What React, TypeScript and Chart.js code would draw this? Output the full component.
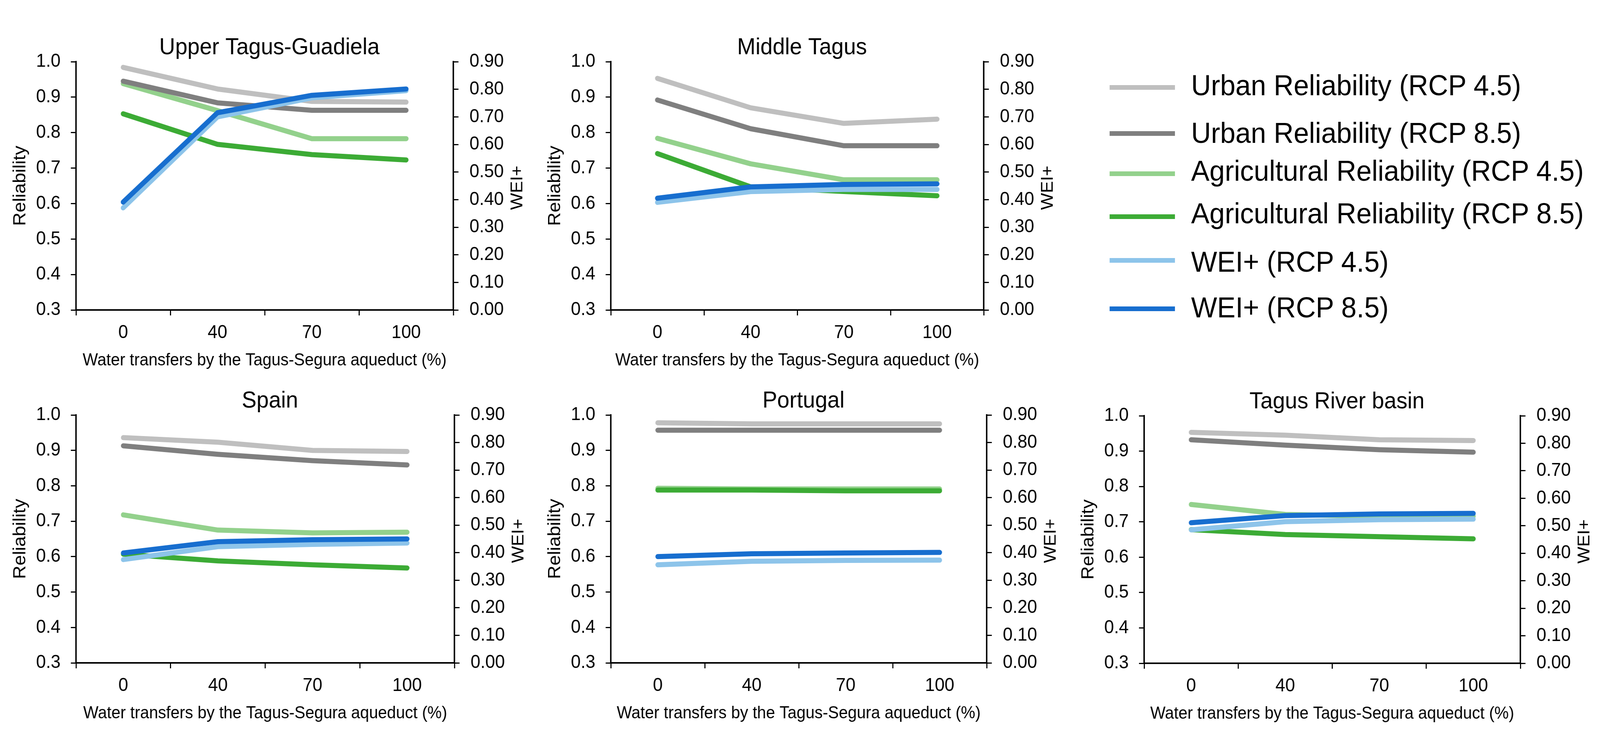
import React, { useEffect, useRef, useState } from "react";
import { Chart, registerables } from "chart.js";

Chart.register(...registerables);

const FONT = '"Liberation Sans", Arial, Helvetica, sans-serif';
const PAGE_W = 4359;
const PAGE_H = 1893;

// ---------- data ----------
const CATEGORIES = ["0", "40", "70", "100"];
const RELIABILITY_TICKS = [0.3, 0.4, 0.5, 0.6, 0.7, 0.8, 0.9, 1.0];
const WEI_TICKS = [0, 0.1, 0.2, 0.3, 0.4, 0.5, 0.6, 0.7, 0.8, 0.9];
const X_TITLE = "Water transfers by the Tagus-Segura aqueduct (%)";
const Y_TITLE = "Reliability";
const Y2_TITLE = "WEI+";

const SERIES_LABELS = [
  "Urban Reliability (RCP 4.5)",
  "Urban Reliability (RCP 8.5)",
  "Agricultural Reliability (RCP 4.5)",
  "Agricultural Reliability (RCP 8.5)",
  "WEI+ (RCP 4.5)",
  "WEI+ (RCP 8.5)",
];
const SERIES_COLORS = ["#bfbfbf", "#7f7f7f", "#93d18c", "#3cab35", "#8dc4ea", "#176ecf"];
const SERIES_AXIS = ["y", "y", "y", "y", "y1", "y1"];
const SERIES_ORDER = [3, 2, 5, 4, 1, 0];

// Upper Tagus-Guadiela
const UTG_URBAN_45 = [0.984, 0.923, 0.888, 0.886];
const UTG_URBAN_85 = [0.945, 0.884, 0.863, 0.863];
const UTG_AGRI_45 = [0.938, 0.862, 0.783, 0.783];
const UTG_AGRI_85 = [0.853, 0.767, 0.738, 0.723];
const UTG_WEI_45 = [0.37, 0.7, 0.769, 0.795];
const UTG_WEI_85 = [0.391, 0.715, 0.778, 0.801];

// Middle Tagus
const MT_URBAN_45 = [0.953, 0.87, 0.826, 0.838];
const MT_URBAN_85 = [0.892, 0.811, 0.763, 0.763];
const MT_AGRI_45 = [0.784, 0.712, 0.667, 0.667];
const MT_AGRI_85 = [0.741, 0.647, 0.634, 0.622];
const MT_WEI_45 = [0.39, 0.429, 0.437, 0.437];
const MT_WEI_85 = [0.405, 0.446, 0.455, 0.457];

// Spain
const ES_URBAN_45 = [0.936, 0.923, 0.9, 0.897];
const ES_URBAN_85 = [0.913, 0.889, 0.871, 0.859];
const ES_AGRI_45 = [0.718, 0.675, 0.667, 0.669];
const ES_AGRI_85 = [0.607, 0.588, 0.577, 0.568];
const ES_WEI_45 = [0.375, 0.422, 0.43, 0.435];
const ES_WEI_85 = [0.399, 0.44, 0.447, 0.45];

// Portugal
const PT_URBAN_45 = [0.978, 0.975, 0.975, 0.975];
const PT_URBAN_85 = [0.957, 0.957, 0.957, 0.957];
const PT_AGRI_45 = [0.793, 0.791, 0.791, 0.791];
const PT_AGRI_85 = [0.788, 0.788, 0.786, 0.786];
const PT_WEI_45 = [0.356, 0.369, 0.372, 0.373];
const PT_WEI_85 = [0.386, 0.396, 0.399, 0.401];

// Tagus River basin
const TRB_URBAN_45 = [0.953, 0.945, 0.932, 0.93];
const TRB_URBAN_85 = [0.932, 0.917, 0.904, 0.897];
const TRB_AGRI_45 = [0.749, 0.721, 0.716, 0.716];
const TRB_AGRI_85 = [0.678, 0.664, 0.658, 0.652];
const TRB_WEI_45 = [0.485, 0.515, 0.522, 0.524];
const TRB_WEI_85 = [0.511, 0.537, 0.543, 0.545];

// ---------- layout ----------
const LEFT_W = 180;
const RIGHT_W = 206;
const TITLE_H = 72;
const BOTTOM_H = 170;

type PanelDef = {
  title: string;
  series: number[][];
  area: { left: number; right: number; top: number; bottom: number };
};

const PANELS: PanelDef[] = [
  {
    title: "Upper Tagus-Guadiela",
    series: [UTG_URBAN_45, UTG_URBAN_85, UTG_AGRI_45, UTG_AGRI_85, UTG_WEI_45, UTG_WEI_85],
    area: { left: 207, right: 1235, top: 158, bottom: 794 },
  },
  {
    title: "Middle Tagus",
    series: [MT_URBAN_45, MT_URBAN_85, MT_AGRI_45, MT_AGRI_85, MT_WEI_45, MT_WEI_85],
    area: { left: 1664, right: 2680, top: 158, bottom: 794 },
  },
  {
    title: "Spain",
    series: [ES_URBAN_45, ES_URBAN_85, ES_AGRI_45, ES_AGRI_85, ES_WEI_45, ES_WEI_85],
    area: { left: 207, right: 1238, top: 1063, bottom: 1698 },
  },
  {
    title: "Portugal",
    series: [PT_URBAN_45, PT_URBAN_85, PT_AGRI_45, PT_AGRI_85, PT_WEI_45, PT_WEI_85],
    area: { left: 1664, right: 2688, top: 1063, bottom: 1698 },
  },
  {
    title: "Tagus River basin",
    series: [TRB_URBAN_45, TRB_URBAN_85, TRB_AGRI_45, TRB_AGRI_85, TRB_WEI_45, TRB_WEI_85],
    area: { left: 3117, right: 4142, top: 1065, bottom: 1699 },
  },
];

const LEGEND_LINE_Y = [224, 342, 445, 555, 667, 791];
const LEGEND_TEXT_Y = [218, 340, 437, 546, 670, 787];

const rightTitlePlugin = {
  id: "rightTitle",
  afterDraw(chart: any) {
    const { ctx, chartArea } = chart;
    ctx.save();
    ctx.translate(chartArea.right + 175, (chartArea.top + chartArea.bottom) / 2 + 5);
    ctx.rotate(-Math.PI / 2);
    ctx.font = `46px ${FONT}`;
    ctx.fillStyle = "#000";
    ctx.textAlign = "center";
    ctx.textBaseline = "middle";
    ctx.fillText(Y2_TITLE, 0, 0);
    ctx.restore();
  },
};

function Panel({ def, dpr }: { def: PanelDef; dpr: number }) {
  const ref = useRef<HTMLCanvasElement | null>(null);
  const { area } = def;
  const x = area.left - LEFT_W;
  const y = area.top - TITLE_H;
  const w = area.right - area.left + LEFT_W + RIGHT_W;
  const h = area.bottom - area.top + TITLE_H + BOTTOM_H;

  useEffect(() => {
    if (!ref.current) return;
    const axisCommon = {
      grid: {
        display: true,
        drawOnChartArea: false,
        drawTicks: true,
        tickLength: 14,
        color: "#000",
        lineWidth: 3,
      },
      border: { display: true, color: "#000", width: 4 },
    };
    const chart = new Chart(ref.current, {
      type: "line",
      data: {
        labels: CATEGORIES,
        datasets: def.series.map((vals, i) => ({
          label: SERIES_LABELS[i],
          data: vals,
          borderColor: SERIES_COLORS[i],
          backgroundColor: SERIES_COLORS[i],
          borderWidth: 13,
          pointRadius: 0,
          pointHoverRadius: 0,
          tension: 0,
          fill: false,
          borderCapStyle: "round",
          borderJoinStyle: "round",
          yAxisID: SERIES_AXIS[i],
          order: SERIES_ORDER[i],
        })),
      },
      options: {
        responsive: false,
        animation: false,
        devicePixelRatio: dpr,
        events: [],
        layout: { padding: 0 },
        plugins: {
          legend: { display: false },
          tooltip: { enabled: false },
          title: {
            display: true,
            text: def.title,
            color: "#000",
            font: { family: FONT, size: 60, weight: "normal", lineHeight: 1.2 },
            padding: { top: 0, bottom: 0 },
          },
        },
        scales: {
          x: {
            type: "category",
            offset: true,
            grid: { ...axisCommon.grid, offset: true },
            border: axisCommon.border,
            ticks: {
              color: "#000",
              font: { family: FONT, size: 48 },
              padding: 16,
              maxRotation: 0,
              autoSkip: false,
            },
            title: {
              display: true,
              text: X_TITLE,
              color: "#000",
              font: { family: FONT, size: 44, lineHeight: 1.2 },
              padding: { top: 0, bottom: 14 },
            },
            afterFit: (s: any) => {
              s.height = BOTTOM_H;
            },
          },
          y: {
            type: "linear",
            position: "left",
            min: 0.3,
            max: 1.0,
            afterBuildTicks: (s: any) => {
              s.ticks = RELIABILITY_TICKS.map((v) => ({ value: v }));
            },
            grid: axisCommon.grid,
            border: axisCommon.border,
            ticks: {
              color: "#000",
              font: { family: FONT, size: 48 },
              padding: 28,
              callback: (v: any) => Number(v).toFixed(1),
            },
            title: {
              display: true,
              text: Y_TITLE,
              color: "#000",
              font: { family: FONT, size: 48, lineHeight: 1.2 },
              padding: { top: 0, bottom: 0 },
            },
            afterFit: (s: any) => {
              s.width = LEFT_W;
            },
          },
          y1: {
            type: "linear",
            position: "right",
            min: 0,
            max: 0.9,
            afterBuildTicks: (s: any) => {
              s.ticks = WEI_TICKS.map((v) => ({ value: v }));
            },
            grid: axisCommon.grid,
            border: axisCommon.border,
            ticks: {
              color: "#000",
              font: { family: FONT, size: 48 },
              padding: 30,
              callback: (v: any) => Number(v).toFixed(2),
            },
            afterFit: (s: any) => {
              s.width = RIGHT_W;
            },
          },
        },
      } as any,
      plugins: [rightTitlePlugin],
    });
    return () => chart.destroy();
  }, [dpr]);

  return (
    <canvas
      ref={ref}
      width={w}
      height={h}
      style={{ position: "absolute", left: x, top: y, width: w, height: h }}
    />
  );
}

function Legend() {
  return (
    <>
      {SERIES_LABELS.map((label, i) => (
        <React.Fragment key={label}>
          <div
            style={{
              position: "absolute",
              left: 3023,
              top: LEGEND_LINE_Y[i] - 6,
              width: 178,
              height: 12,
              background: SERIES_COLORS[i],
            }}
          />
          <div
            style={{
              position: "absolute",
              left: 3245,
              top: LEGEND_TEXT_Y[i] - 37,
              fontFamily: FONT,
              fontSize: 75,
              lineHeight: "75px",
              color: "#000",
              whiteSpace: "nowrap",
            }}
          >
            {label}
          </div>
        </React.Fragment>
      ))}
    </>
  );
}

function getScale() {
  const vw = typeof window !== "undefined" ? window.innerWidth || PAGE_W : PAGE_W;
  const vh = typeof window !== "undefined" ? window.innerHeight || PAGE_H : PAGE_H;
  return { sx: vw / PAGE_W, sy: vh / PAGE_H };
}

export default function App() {
  const [scale, setScale] = useState(getScale());
  useEffect(() => {
    const onResize = () => setScale(getScale());
    window.addEventListener("resize", onResize);
    return () => window.removeEventListener("resize", onResize);
  }, []);
  const baseDpr = typeof window !== "undefined" ? window.devicePixelRatio || 1 : 1;
  const dpr = baseDpr * Math.max(scale.sx, scale.sy, 0.1);

  return (
    <div
      style={{
        position: "fixed",
        left: 0,
        top: 0,
        width: "100vw",
        height: "100vh",
        overflow: "hidden",
        background: "#fff",
      }}
    >
      <div
        style={{
          position: "absolute",
          left: 0,
          top: 0,
          width: PAGE_W,
          height: PAGE_H,
          transformOrigin: "0 0",
          transform: `scale(${scale.sx}, ${scale.sy})`,
          background: "#fff",
        }}
      >
        {PANELS.map((p) => (
          <Panel key={p.title} def={p} dpr={dpr} />
        ))}
        <Legend />
      </div>
    </div>
  );
}
